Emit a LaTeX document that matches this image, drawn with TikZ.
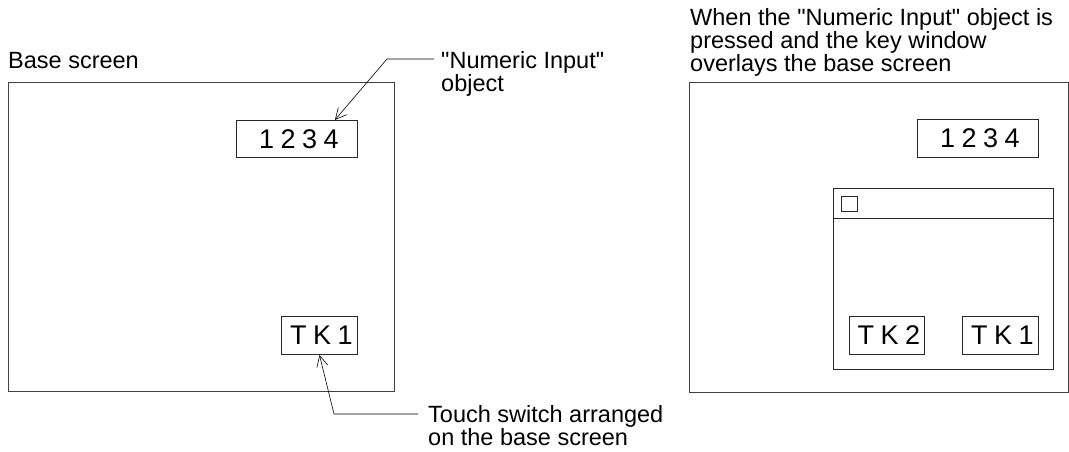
\documentclass[tikz,border=0pt]{standalone}
\usepackage{fontspec}
\setmainfont{Liberation Sans}
\newfontfamily\keyfont[LetterSpace=24]{Liberation Sans}
\usetikzlibrary{arrows.meta,positioning}

\begin{document}
\begin{tikzpicture}[
      x = 1pt, y = -1pt,
      font = \fontsize{23.5}{23}\selectfont,
      screen/.style={
        draw = black!75,
        line width = 1.1pt,
        anchor = north west,
        inner sep = 0pt,
      },
      keybox/.style={
        draw = black!85,
        line width = 0.9pt,
        anchor = north west,
        inner sep = 0pt,
        font = \fontsize{27}{27}\selectfont\keyfont,
      },
      caption/.style={
        anchor = base west,
        inner sep = 0pt,
        align = left,
      },
      pointer/.style={
        draw = black,
        line width = 0.6pt,
        -{Straight Barb[length=11pt,width=11pt]},
      },
    ]
    \useasboundingbox (0,0) rectangle (1069,452);

    % base screen
    \node[caption] (basecap) at (8,69) {Base screen};
    \node[screen, minimum width=386, minimum height=309] (base) at (8,82) {};
    \node[keybox, minimum width=121, minimum height=37] (num) at (236,120) {\hspace{4pt}1234};
    \node[keybox, minimum width=76, minimum height=38] (tk) at (281,316) {\hspace{4pt}TK1};

    % labels with pointers (base = last line)
    \node[caption] (numcap) at (441,92) {\textquotedbl Numeric Input\textquotedbl\\object};
    \coordinate (numend) at (434,59);
    \draw[pointer] (numend) -- (387,59) -- ([xshift=-23pt]num.north east);

    \node[caption] (tkcap) at (428,445) {Touch switch arranged\\on the base screen};
    \coordinate (tkend) at (418,414);
    \draw[pointer] (tkend) -- (334,414) -- (tk.south);

    % overlaid screen
    \node[caption] (overcap) at (690,71) {When the \textquotedbl Numeric Input\textquotedbl{} object is\\pressed and the key window\\overlays the base screen};
    \node[screen, minimum width=379, minimum height=310] (over) at (689,82) {};
    \node[keybox, minimum width=121, minimum height=38] (num2) at (917,119) {\hspace{4pt}1234};

    % key window
    \node[keybox, minimum width=220, minimum height=181] (keywin) at (833,188) {};
    \draw[black!85, line width=0.9pt] ([yshift=-30pt]keywin.north west) -- ([yshift=-30pt]keywin.north east);
    \node[keybox, minimum width=16, minimum height=15, below right=8pt and 8pt of keywin.north west, anchor=north west] (close) {};
    \node[keybox, minimum width=75, minimum height=38] (tk2) at (849,316) {\hspace{4pt}TK2};
    \node[keybox, minimum width=76, minimum height=38] (tk1) at (962,316) {\hspace{4pt}TK1};
  \end{tikzpicture}
\end{document}
